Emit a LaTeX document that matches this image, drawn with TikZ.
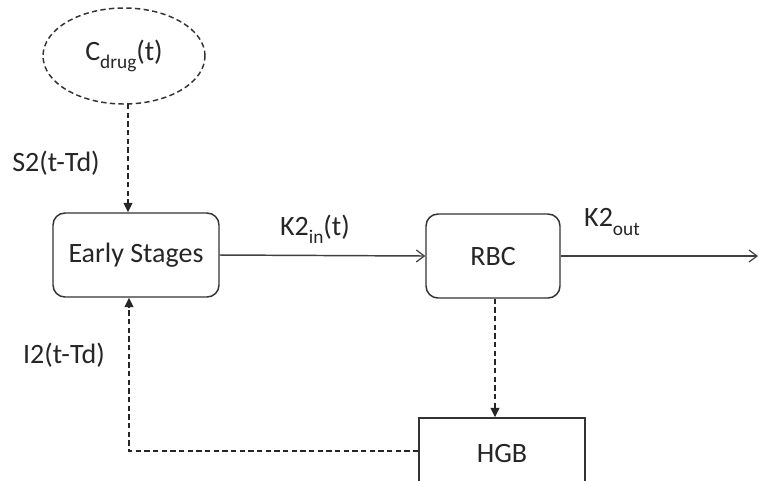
\documentclass[tikz,border=0pt]{standalone}
\usepackage{fontspec}
\setmainfont{Carlito}
\usetikzlibrary{arrows.meta,shapes.geometric}
\newcommand\mysub[1]{\raisebox{-0.3em}{\fontsize{14.5}{14.5}\selectfont #1}}
\tikzset{
  lbl/.style={font=\fontsize{21}{25}\selectfont, text=black!85, inner sep=0pt},
  boxr/.style={draw=black!80, line width=1.1pt, rounded corners=9pt, lbl},
  boxs/.style={draw=black!80, line width=1.1pt, lbl},
  solarr/.style={draw=black!75, line width=1.1pt, -{Straight Barb[length=6pt,width=9pt,line width=0.9pt]}},
  dasharr/.style={draw=black!85, line width=1.1pt, dash pattern=on 4pt off 2.5pt, -{Triangle[length=7pt,width=6.5pt]}},
}
\begin{document}
\begin{tikzpicture}[x=0.75pt,y=-0.75pt]
\useasboundingbox (0,0) rectangle (759,480);
\clip (0,0) rectangle (759,480);
\fill[white] (0,0) rectangle (759,480);
\node[ellipse, draw=black!80, line width=1.1pt, dash pattern=on 4pt off 2.5pt,
      minimum width=162*0.75pt, minimum height=96*0.75pt, lbl] (ell) at (124,56) {C\mysub{drug}(t)};
\node[boxr, minimum width=166*0.75pt, minimum height=84*0.75pt] (es) at (136,255) {Early Stages};
\node[boxr, minimum width=134*0.75pt, minimum height=84*0.75pt] (rbc) at (493,256) {RBC};
\node[boxs, minimum width=166*0.75pt, minimum height=70*0.75pt] (hgb) at (502,453) {HGB};
\coordinate (s2top) at (128,104);
\coordinate (outend) at (758,256);
\coordinate (fbx) at (129,451);
\coordinate (rbcx) at (495,0);
\draw[dasharr] (s2top) -- (s2top |- es.north);
\draw[solarr] (es.east) -- (rbc.west);
\draw[solarr] (rbc.east) -- (outend);
\draw[dasharr] (rbcx |- rbc.south) -- (rbcx |- hgb.north);
\draw[dasharr] (hgb.west |- fbx) -- (fbx) -- (fbx |- es.south);
\node[lbl] (ls2) at (56,163) {S2(t-Td)};
\node[lbl] (lk2in) at (315,229) {K2\mysub{in}(t)};
\node[lbl] (lk2out) at (612,222) {K2\mysub{out}};
\node[lbl] (li2) at (64,355) {I2(t-Td)};
\end{tikzpicture}
\end{document}
